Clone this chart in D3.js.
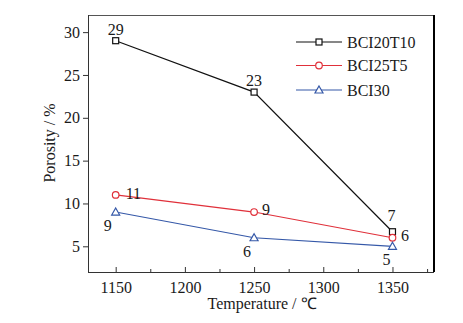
<!DOCTYPE html>
<html><head><meta charset="utf-8">
<script src="https://cdn.jsdelivr.net/npm/d3@7"></script>
<style>
html,body{margin:0;padding:0;background:#fff;}
</style></head>
<body><svg id="c" width="463" height="323" style="font-family:'Liberation Serif',serif"></svg>
<script>
const temperatures = [1150, 1250, 1350];
const seriesNames = ["BCI20T10", "BCI25T5", "BCI30"];
const bci20t10 = [29, 23, 6.7];
const bci25t5 = [11, 9, 6];
const bci30 = [9, 6, 5];
const xTicks = [1150, 1200, 1250, 1300, 1350];
const xMinorTicks = [1175, 1225, 1275, 1325, 1375];
const yTicks = [5, 10, 15, 20, 25, 30];

const FONT = "'Liberation Serif', 'Times New Roman', serif";
const series = [
  {name: seriesNames[0], values: bci20t10, color: "#111111", marker: "square"},
  {name: seriesNames[1], values: bci25t5, color: "#e0303a", marker: "circle"},
  {name: seriesNames[2], values: bci30, color: "#3558a8", marker: "triangle"}
];
// label placement relative to point (dx, dy baseline, anchor)
const labelStyle = [
  [[0,-6,"middle"],[0,-6,"middle"],[-1,-11,"middle"]],
  [[10,4,"start"],[8,3,"start"],[8.5,3.5,"start"]],
  [[-8,19,"middle"],[-7,19.5,"middle"],[-6,19,"middle"]]
];

const svg = d3.select("#c");
const L = 88, R = 434, T = 15, B = 272;
const x = d3.scaleLinear().domain([1130, 1380]).range([L, R]);
const y = d3.scaleLinear().domain([2, 32]).range([B, T]);

function txt(sel) {
  return sel.attr("font-family", FONT).style("font-family", FONT).style("font-size", "16px").attr("fill", "#1a1a1a");
}

// frame top and right
svg.append("line").attr("x1", L).attr("x2", R).attr("y1", T + 0.5).attr("y2", T + 0.5)
  .attr("stroke", "#555").attr("stroke-width", 1);
svg.append("line").attr("x1", R).attr("x2", R).attr("y1", T).attr("y2", B)
  .attr("stroke", "#000").attr("stroke-width", 2);

// y axis
const ya = svg.append("g").attr("transform", `translate(${L},0)`)
  .call(d3.axisLeft(y).tickValues(yTicks).tickSize(5).tickPadding(3).tickFormat(d3.format("d")));
ya.attr("font-family", FONT);
ya.select(".domain").attr("stroke", "#333").attr("d", `M0.5,${T}V${B}`);
ya.selectAll(".tick line").attr("stroke", "#333");
txt(ya.selectAll(".tick text"));

// x axis (ticks inward)
const xa = svg.append("g").attr("transform", `translate(0,${B})`)
  .call(d3.axisBottom(x).tickValues(xTicks).tickSize(-5).tickPadding(10).tickFormat(d3.format("d")));
xa.attr("font-family", FONT);
xa.select(".domain").attr("stroke", "#333").attr("d", `M${L},0.5H${R}`);
xa.selectAll(".tick line").attr("stroke", "#333");
txt(xa.selectAll(".tick text"));
svg.append("g").selectAll("line").data(xMinorTicks).join("line")
  .attr("x1", d => x(d) + 0.5).attr("x2", d => x(d) + 0.5)
  .attr("y1", B).attr("y2", B - 3).attr("stroke", "#333");

// axis titles
txt(svg.append("text").attr("x", 262).attr("y", 309).attr("text-anchor", "middle"))
  .text("Temperature / ℃");
txt(svg.append("text").attr("transform", "translate(55,143) rotate(-90)").attr("text-anchor", "middle"))
  .text("Porosity / %");

function drawMarker(g, type, cx, cy, color) {
  if (type === "square") {
    g.append("rect").attr("x", cx - 3).attr("y", cy - 3).attr("width", 6).attr("height", 6)
      .attr("fill", "#fff").attr("stroke", color).attr("stroke-width", 1.2);
  } else if (type === "circle") {
    g.append("circle").attr("cx", cx).attr("cy", cy).attr("r", 3.3)
      .attr("fill", "#fff").attr("stroke", color).attr("stroke-width", 1.2);
  } else {
    g.append("path").attr("d", `M${cx},${cy - 4}L${cx + 4},${cy + 3}L${cx - 4},${cy + 3}Z`)
      .attr("fill", "#fff").attr("stroke", color).attr("stroke-width", 1.2);
  }
}

const line = d3.line().x(d => x(d[0])).y(d => y(d[1]));
series.forEach((s, si) => {
  const pts = temperatures.map((t, i) => [t, s.values[i]]);
  const g = svg.append("g");
  g.append("path").attr("d", line(pts)).attr("fill", "none").attr("stroke", s.color).attr("stroke-width", 1.2);
  pts.forEach((p, i) => {
    drawMarker(g, s.marker, x(p[0]), y(p[1]), s.color);
    const ls = labelStyle[si][i];
    txt(g.append("text").attr("x", x(p[0]) + ls[0]).attr("y", y(p[1]) + ls[1])
      .attr("text-anchor", ls[2])).text(Math.round(p[1]));
  });
});

// legend
const legY = [42, 65.5, 90];
series.forEach((s, i) => {
  const g = svg.append("g");
  g.append("line").attr("x1", 296).attr("x2", 342).attr("y1", legY[i]).attr("y2", legY[i])
    .attr("stroke", s.color).attr("stroke-width", 1.2);
  drawMarker(g, s.marker, 319, legY[i], s.color);
  txt(g.append("text").attr("x", 347).attr("y", legY[i]).attr("dy", "0.35em")).text(s.name);
});
</script></body></html>
